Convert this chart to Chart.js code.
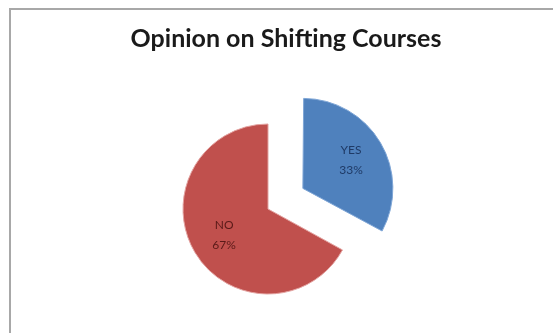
<!DOCTYPE html>
<html>
<head>
<meta charset="utf-8">
<script src="https://cdn.jsdelivr.net/npm/chart.js@4/dist/chart.umd.min.js"></script>
<style>
  html, body { margin: 0; padding: 0; background: #ffffff; }
  #wrap { position: relative; width: 553px; height: 333px; overflow: hidden; }
  #frame { position: absolute; left: 9px; top: 8px; width: 560px; height: 340px;
           border-top: 2px solid #a8a8a8; border-left: 2px solid #a8a8a8; box-sizing: border-box; }
  canvas { position: absolute; left: 0; top: 0; }
</style>
</head>
<body>
<div id="wrap">
  <div id="frame"></div>
  <canvas id="c" width="553" height="333"></canvas>
</div>
<script>
const chartTitle = 'Opinion on Shifting Courses';
const categories = ['YES', 'NO'];
const percentValues = [33, 67];
const sliceColors = ['#4F81BD', '#C0504D'];
const labelColors = ['#1F3A66', '#5A1A18'];

const titlePlugin = {
  id: 'excelTitle',
  afterDraw(chart) {
    const ctx = chart.ctx;
    ctx.save();
    ctx.font = 'bold 25px Lato, "Open Sans", sans-serif';
    ctx.fillStyle = '#1a1a1a';
    ctx.textAlign = 'center';
    ctx.textBaseline = 'alphabetic';
    ctx.fillText(chartTitle, 286, 47);
    ctx.restore();
  }
};

const sliceLabelPlugin = {
  id: 'sliceLabels',
  afterDatasetsDraw(chart) {
    const ctx = chart.ctx;
    const meta = chart.getDatasetMeta(0);
    ctx.save();
    ctx.font = '12px Lato, "Open Sans", sans-serif';
    ctx.textAlign = 'center';
    ctx.textBaseline = 'middle';
    meta.data.forEach((arc, i) => {
      const p = arc.getProps(['x', 'y', 'startAngle', 'endAngle', 'outerRadius', 'circumference'], true);
      const half = (p.startAngle + p.endAngle) / 2;
      const off = (arc.options.offset || 0) / 4;
      const fix = 1 - Math.sin(Math.min(Math.PI, p.circumference || 0));
      const disp = off * (1 + fix);
      const r = disp + p.outerRadius * 0.6;
      const lx = p.x + Math.cos(half) * r;
      const ly = p.y + Math.sin(half) * r;
      ctx.fillStyle = labelColors[i];
      ctx.fillText(categories[i], lx, ly - 10);
      ctx.fillText(percentValues[i] + '%', lx, ly + 10);
    });
    ctx.restore();
  }
};

new Chart(document.getElementById('c'), {
  type: 'pie',
  data: {
    labels: categories,
    datasets: [{
      data: percentValues,
      backgroundColor: sliceColors,
      borderColor: ['#7fa6d6', '#e3a3a1'],
      borderWidth: 1,
      offset: [162, 0],
      hoverOffset: 0
    }]
  },
  options: {
    responsive: false,
    animation: false,
    radius: 85,
    layout: { padding: { left: 0, right: 17, top: 100, bottom: 15 } },
    plugins: {
      legend: { display: false },
      title: { display: false },
      tooltip: { enabled: false }
    },
    events: []
  },
  plugins: [titlePlugin, sliceLabelPlugin]
});
</script>
</body>
</html>
